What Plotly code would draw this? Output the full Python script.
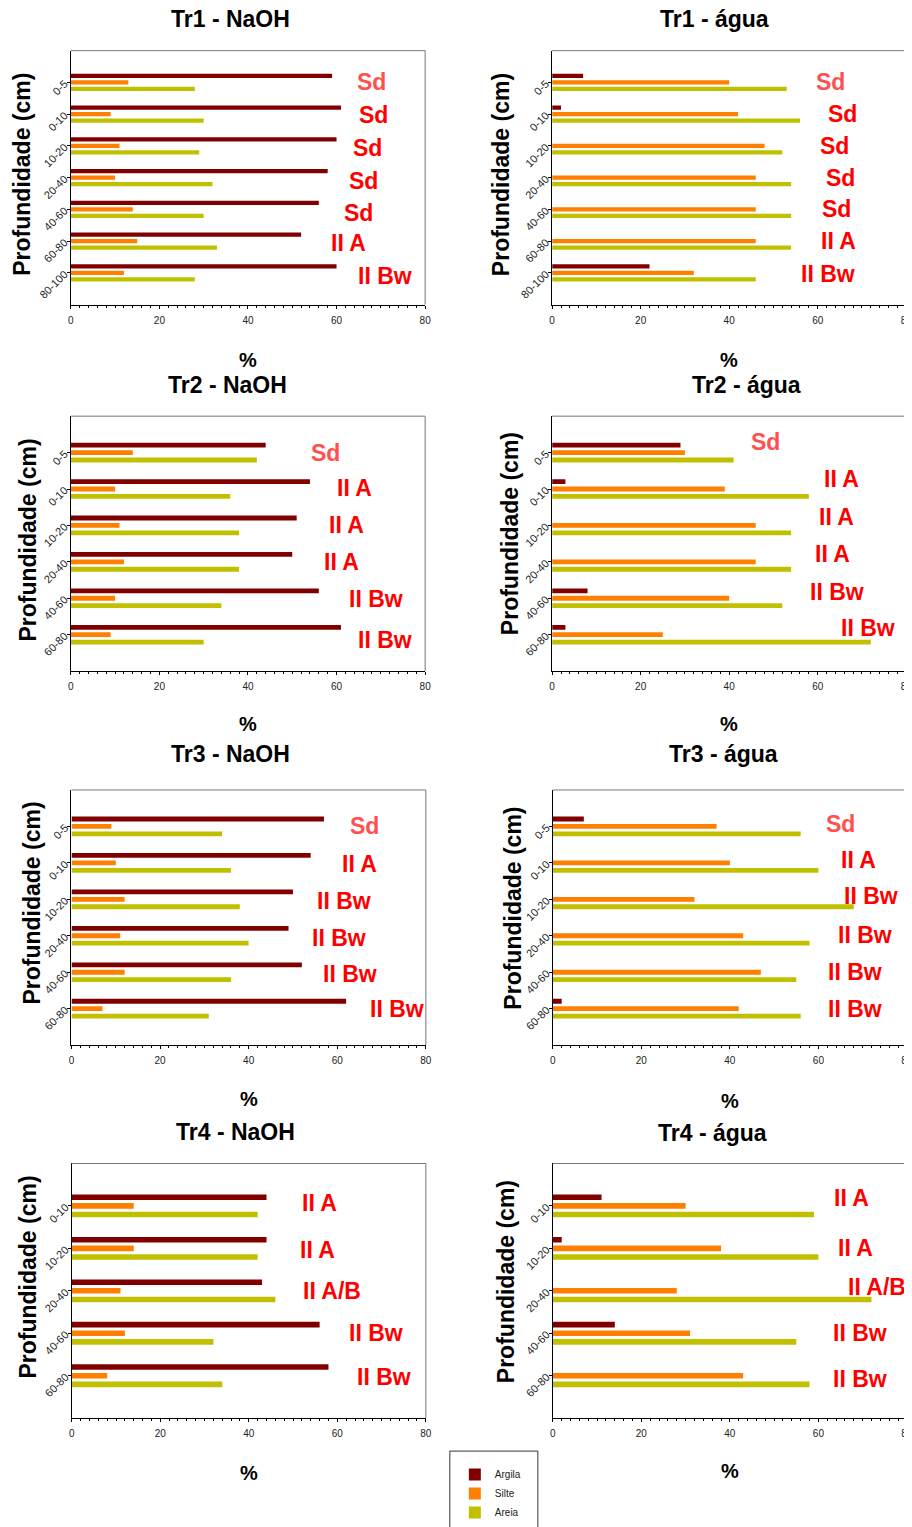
import plotly.graph_objects as go

OFF = 8                 # default margin of the HTML body around the figure
SX, BX = 0.99, 2.3      # observed horizontal page -> picture mapping (compensated)
W, H = 912, 1519

# ---------------- data ----------------
prof_tr1 = ["0-5", "0-10", "10-20", "20-40", "40-60", "60-80", "80-100"]
prof_tr23 = ["0-5", "0-10", "10-20", "20-40", "40-60", "60-80"]
prof_tr4 = ["0-10", "10-20", "20-40", "40-60", "60-80"]

tr1_naoh_argila = [59, 61, 60, 58, 56, 52, 60]
tr1_naoh_silte = [13, 9, 11, 10, 14, 15, 12]
tr1_naoh_areia = [28, 30, 29, 32, 30, 33, 28]
tr1_naoh_horiz = ["Sd", "Sd", "Sd", "Sd", "Sd", "II A", "II Bw"]

tr1_agua_argila = [7, 2, 0, 0, 0, 0, 22]
tr1_agua_silte = [40, 42, 48, 46, 46, 46, 32]
tr1_agua_areia = [53, 56, 52, 54, 54, 54, 46]
tr1_agua_horiz = ["Sd", "Sd", "Sd", "Sd", "Sd", "II A", "II Bw"]

tr2_naoh_argila = [44, 54, 51, 50, 56, 61]
tr2_naoh_silte = [14, 10, 11, 12, 10, 9]
tr2_naoh_areia = [42, 36, 38, 38, 34, 30]
tr2_naoh_horiz = ["Sd", "II A", "II A", "II A", "II Bw", "II Bw"]

tr2_agua_argila = [29, 3, 0, 0, 8, 3]
tr2_agua_silte = [30, 39, 46, 46, 40, 25]
tr2_agua_areia = [41, 58, 54, 54, 52, 72]
tr2_agua_horiz = ["Sd", "II A", "II A", "II A", "II Bw", "II Bw"]

tr3_naoh_argila = [57, 54, 50, 49, 52, 62]
tr3_naoh_silte = [9, 10, 12, 11, 12, 7]
tr3_naoh_areia = [34, 36, 38, 40, 36, 31]
tr3_naoh_horiz = ["Sd", "II A", "II Bw", "II Bw", "II Bw", "II Bw"]

tr3_agua_argila = [7, 0, 0, 0, 0, 2]
tr3_agua_silte = [37, 40, 32, 43, 47, 42]
tr3_agua_areia = [56, 60, 68, 58, 55, 56]
tr3_agua_horiz = ["Sd", "II A", "II Bw", "II Bw", "II Bw", "II Bw"]

tr4_naoh_argila = [44, 44, 43, 56, 58]
tr4_naoh_silte = [14, 14, 11, 12, 8]
tr4_naoh_areia = [42, 42, 46, 32, 34]
tr4_naoh_horiz = ["II A", "II A", "II A/B", "II Bw", "II Bw"]

tr4_agua_argila = [11, 2, 0, 14, 0]
tr4_agua_silte = [30, 38, 28, 31, 43]
tr4_agua_areia = [59, 60, 72, 55, 58]
tr4_agua_horiz = ["II A", "II A", "II A/B", "II Bw", "II Bw"]

series_names = ["Argila", "Silte", "Areia"]
x_ticks = [0, 20, 40, 60, 80]

panels = [
    ("Tr1 - NaOH", prof_tr1, [tr1_naoh_argila, tr1_naoh_silte, tr1_naoh_areia], tr1_naoh_horiz),
    ("Tr1 - água", prof_tr1, [tr1_agua_argila, tr1_agua_silte, tr1_agua_areia], tr1_agua_horiz),
    ("Tr2 - NaOH", prof_tr23, [tr2_naoh_argila, tr2_naoh_silte, tr2_naoh_areia], tr2_naoh_horiz),
    ("Tr2 - água", prof_tr23, [tr2_agua_argila, tr2_agua_silte, tr2_agua_areia], tr2_agua_horiz),
    ("Tr3 - NaOH", prof_tr23, [tr3_naoh_argila, tr3_naoh_silte, tr3_naoh_areia], tr3_naoh_horiz),
    ("Tr3 - água", prof_tr23, [tr3_agua_argila, tr3_agua_silte, tr3_agua_areia], tr3_agua_horiz),
    ("Tr4 - NaOH", prof_tr4, [tr4_naoh_argila, tr4_naoh_silte, tr4_naoh_areia], tr4_naoh_horiz),
    ("Tr4 - água", prof_tr4, [tr4_agua_argila, tr4_agua_silte, tr4_agua_areia], tr4_agua_horiz),
]

# ---------------- layout (pixel geometry, picture coordinates) ----------------
geom = [
    dict(x0=70, x1=424.3, y0=50.7, y1=305, tx=230, ty=19, yx=21.7, yy=174.5, xy=360,
         lx=[68.0, 68.3, 67.1, 66.0, 64.9, 62.7, 70.9], ly=[0, 1.04, 2.07, 3.1, 4.1, 5.07, 6.1]),
    dict(x0=551.3, x1=905.3, y0=50.7, y1=305, tx=714, ty=19, yx=500, yy=174.5, xy=360,
         lx=[63.0, 65.7, 63.7, 65.2, 64.3, 64.6, 62.4], ly=[0, 1.0, 2.0, 3.0, 4.0, 5.0, 6.04]),
    dict(x0=70, x1=424.3, y0=416.7, y1=672, tx=226.7, ty=385, yx=27, yy=540.5, xy=725,
         lx=[57.6, 64.1, 62.3, 61.1, 69.0, 70.9], ly=[0, 0.96, 1.99, 3.0, 4.02, 5.14]),
    dict(x0=551.3, x1=905.3, y0=416.7, y1=672, tx=746, ty=385, yx=509, yy=534, xy=725,
         lx=[48.1, 65.4, 64.2, 63.3, 64.4, 71.3], ly=[-0.29, 0.73, 1.77, 2.79, 3.82, 4.82]),
    dict(x0=70.7, x1=425, y0=791, y1=1046.5, tx=230, ty=755, yx=31, yy=904, xy=1100,
         lx=[66.1, 65.0, 61.6, 60.5, 62.9, 73.5], ly=[0, 1.04, 2.04, 3.05, 4.04, 5.0]),
    dict(x0=552, x1=906, y0=791, y1=1046.5, tx=723, ty=755, yx=512, yy=909, xy=1102,
         lx=[65.0, 69.1, 72.0, 70.5, 68.2, 68.2], ly=[-0.07, 0.92, 1.9, 2.97, 4.0, 5.02]),
    dict(x0=71, x1=425, y0=1165, y1=1420, tx=235, ty=1133, yx=27.5, yy=1279, xy=1475,
         lx=[56.0, 55.6, 58.9, 68.8, 70.5], ly=[-0.06, 1.04, 2.0, 3.0, 4.04]),
    dict(x0=552, x1=906, y0=1165, y1=1420, tx=712, ty=1134, yx=505, yy=1283, xy=1473,
         lx=[67.5, 68.4, 73.2, 69.4, 69.4], ly=[-0.19, 0.98, 1.9, 3.0, 4.07]),
]

colors = ["#800000", "#FF8000", "#C0C000"]
FONT = "Liberation Sans, Arial, sans-serif"


def px_x(v):
    page = (v - BX) / SX
    return min(max((page - OFF) / W, 0), 1)


def px_y(v):
    return min(max(1 - (v - OFF) / H, 0), 1)


fig = go.Figure()
annotations = []
shapes = []
layout_axes = {}

for i, ((title, cats, vals, horiz), g) in enumerate(zip(panels, geom)):
    n = i + 1
    xa = "x" if n == 1 else f"x{n}"
    ya = "y" if n == 1 else f"y{n}"
    xkey = "xaxis" if n == 1 else f"xaxis{n}"
    ykey = "yaxis" if n == 1 else f"yaxis{n}"

    for name, v, c in zip(series_names, vals, colors):
        fig.add_trace(go.Bar(
            x=v, y=cats, orientation="h", name=name,
            marker=dict(color=c, line=dict(width=0)),
            xaxis=xa, yaxis=ya, legendgroup=name, showlegend=(n == 1),
        ))

    layout_axes[xkey] = dict(
        domain=[px_x(g["x0"]), px_x(g["x1"])], anchor=ya,
        range=[0, 80], tickvals=x_ticks, ticks="outside", ticklen=3,
        tickcolor="black", showline=True, linecolor="black", linewidth=1,
        showgrid=False, zeroline=False, tickfont=dict(size=10, color="#222"),
        ticklabelstandoff=3,
        minor=dict(dtick=2, ticks="outside", ticklen=2, tickcolor="black", showgrid=False),
    )
    layout_axes[ykey] = dict(
        domain=[px_y(g["y1"]), px_y(g["y0"])], anchor=xa,
        type="category", categoryorder="array", categoryarray=cats,
        range=[len(cats), -1], ticks="outside", ticklen=3, tickcolor="black",
        tickangle=-45, showline=True, linecolor="black", linewidth=1,
        showgrid=False, zeroline=False, tickfont=dict(size=11, color="#222"),
    )

    # gray top/right frame
    shapes.append(dict(type="line", xref=f"{xa} domain", yref=f"{ya} domain",
                       x0=0, x1=1, y0=1, y1=1, line=dict(color="#777", width=1)))
    shapes.append(dict(type="line", xref=f"{xa} domain", yref=f"{ya} domain",
                       x0=1, x1=1, y0=0, y1=1, line=dict(color="#777", width=1)))

    # panel title
    annotations.append(dict(text=f"<b>{title}</b>", x=px_x(g["tx"]), y=px_y(g["ty"]),
                            xref="paper", yref="paper", showarrow=False,
                            xanchor="center", yanchor="middle",
                            font=dict(size=23, color="black", family=FONT)))
    # y title
    annotations.append(dict(text="<b>Profundidade (cm)</b>", x=px_x(g["yx"]), y=px_y(g["yy"]),
                            xref="paper", yref="paper", showarrow=False, textangle=-90,
                            xanchor="center", yanchor="middle",
                            font=dict(size=23, color="black", family=FONT)))
    # x title
    annotations.append(dict(text="<b>%</b>", x=(px_x(g["x0"]) + px_x(g["x1"])) / 2, y=px_y(g["xy"]),
                            xref="paper", yref="paper", showarrow=False,
                            xanchor="center", yanchor="middle",
                            font=dict(size=20, color="black", family=FONT)))
    # horizon labels
    for k, (lab, lx, ly) in enumerate(zip(horiz, g["lx"], g["ly"])):
        col = "#FF5050" if (k == 0 and lab == "Sd") else "#FF0000"
        annotations.append(dict(text=f"<b>{lab}</b>", x=lx, y=ly, xref=xa, yref=ya,
                                showarrow=False, xanchor="center", yanchor="middle",
                                font=dict(size=23, color=col, family=FONT)))

# legend frame (box as in the reference, open at the bottom edge)
shapes.append(dict(type="rect", xref="paper", yref="paper",
                   x0=px_x(449), x1=px_x(537), y0=-0.01, y1=px_y(1453),
                   line=dict(color="#333", width=1), fillcolor="rgba(0,0,0,0)"))

fig.update_layout(
    width=W, height=H,
    margin=dict(l=0, r=0, t=0, b=0),
    paper_bgcolor="white", plot_bgcolor="white",
    font=dict(family=FONT, color="black"),
    barmode="group", bargap=0.39, bargroupgap=0.35,
    annotations=annotations, shapes=shapes,
    legend=dict(x=px_x(454), y=px_y(1462), xanchor="left", yanchor="top",
                bgcolor="rgba(0,0,0,0)", borderwidth=0,
                font=dict(size=10, color="#222", family=FONT),
                tracegroupgap=0, itemwidth=30),
    **layout_axes,
)

fig.write_html("out.html")
